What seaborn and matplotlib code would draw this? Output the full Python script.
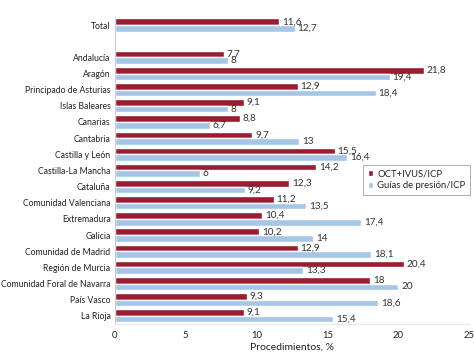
import numpy as np
import pandas as pd
import matplotlib
matplotlib.use("Agg")
import matplotlib.pyplot as plt
import seaborn as sns

regiones = ["Total", "Andalucía", "Aragón", "Principado de Asturias", "Islas Baleares",
            "Canarias", "Cantabria", "Castilla y León", "Castilla-La Mancha", "Cataluña",
            "Comunidad Valenciana", "Extremadura", "Galicia", "Comunidad de Madrid",
            "Región de Murcia", "Comunidad Foral de Navarra", "País Vasco", "La Rioja"]
oct_ivus = [11.6, 7.7, 21.8, 12.9, 9.1, 8.8, 9.7, 15.5, 14.2, 12.3, 11.2, 10.4, 10.2,
            12.9, 20.4, 18, 9.3, 9.1]
guias = [12.7, 8, 19.4, 18.4, 8, 6.7, 13, 16.4, 6, 9.2, 13.5, 17.4, 14, 18.1, 13.3,
         20, 18.6, 15.4]
series = ["OCT+IVUS/ICP", "Guías de presión/ICP"]

df = pd.DataFrame({
    "region": regiones * 2,
    "valor": oct_ivus + guias,
    "serie": [series[0]] * len(regiones) + [series[1]] * len(regiones),
})
orden = ["Total", " "] + regiones[1:]

sns.set_style("white")
plt.rcParams["font.family"] = ["Lato", "DejaVu Sans"]

fig, ax = plt.subplots(figsize=(4.74, 3.54), dpi=100)
sns.barplot(data=df, y="region", x="valor", hue="serie", order=orden,
            palette=["#9b1b30", "#a7c6e6"], orient="h", ax=ax, width=0.82,
            saturation=1)

for cont in ax.containers:
    labs = [("%g" % b.get_width()).replace(".", ",") if not np.isnan(b.get_width()) else ""
            for b in cont]
    ax.bar_label(cont, labels=labs, padding=2, fontsize=7.2, color="#333333")

ax.set_xlim(0, 25)
ax.set_xticks([0, 5, 10, 15, 20, 25])
ax.set_xlabel("Procedimientos, %", fontsize=7.5, color="#222222", labelpad=2)
ax.set_ylabel("")
ax.tick_params(axis="y", labelsize=6.2, colors="#222222", length=0, pad=3)
ax.tick_params(axis="x", labelsize=6.8, colors="#222222", length=0, pad=5)
for s in ["top", "right"]:
    ax.spines[s].set_visible(False)
ax.spines["left"].set_color("#d0d0d0")
ax.spines["bottom"].set_color("#e8e8e8")

leg = ax.legend(loc="center right", bbox_to_anchor=(1.015, 0.47), fontsize=6.8,
                frameon=True, fancybox=False, handlelength=0.6, handleheight=0.6,
                handletextpad=0.4, borderpad=0.5, labelspacing=0.3)
leg.get_frame().set_edgecolor("#888888")
leg.get_frame().set_linewidth(0.6)

fig.subplots_adjust(left=0.242, right=0.99, top=0.952, bottom=0.085)
fig.savefig("out.png", dpi=100)
